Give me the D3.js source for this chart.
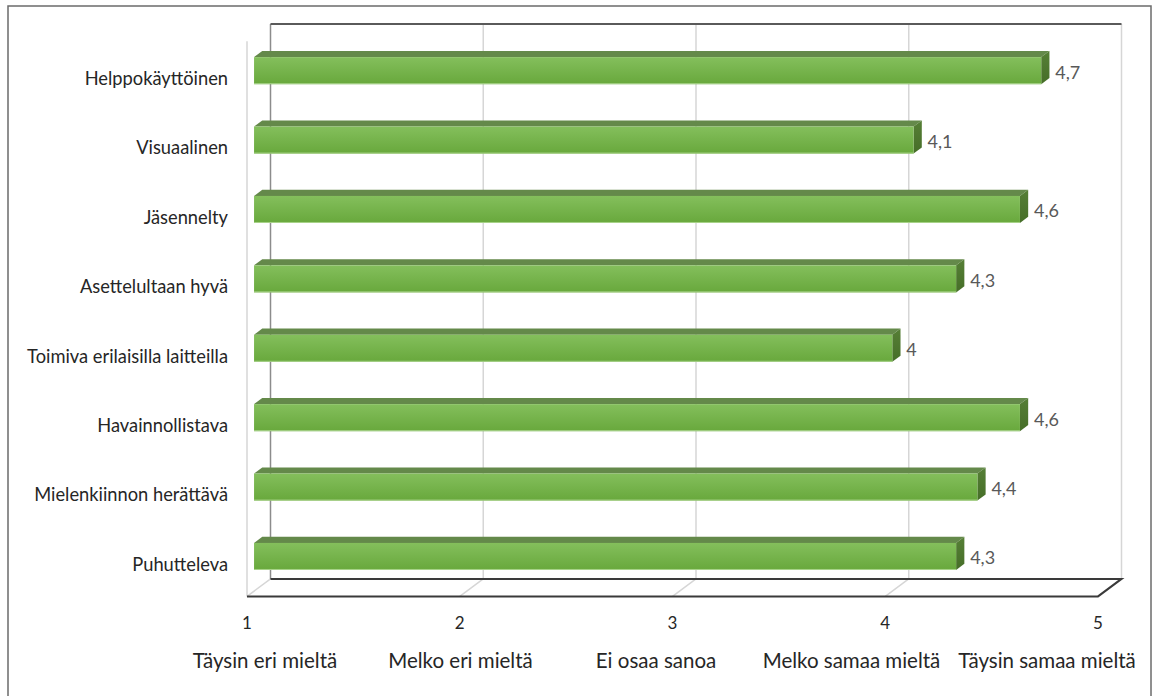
<!DOCTYPE html>
<html>
<head>
<meta charset="utf-8">
<script src="https://cdn.jsdelivr.net/npm/d3@7"></script>
<style>
  html, body { margin: 0; padding: 0; background: #fff; }
  svg { display: block; font-family: Lato, "Open Sans", sans-serif; }
</style>
</head>
<body>
<svg id="chart" width="1153" height="696"></svg>
<script>
// Survey results: mean agreement per statement (scale 1–5)
const categories = [
  "Helppokäyttöinen",
  "Visuaalinen",
  "Jäsennelty",
  "Asettelultaan hyvä",
  "Toimiva erilaisilla laitteilla",
  "Havainnollistava",
  "Mielenkiinnon herättävä",
  "Puhutteleva"
];
const values = [4.7, 4.1, 4.6, 4.3, 4.0, 4.6, 4.4, 4.3];
const tickValues = [1, 2, 3, 4, 5];
const scaleLabels = [
  "Täysin eri mieltä",
  "Melko eri mieltä",
  "Ei osaa sanoa",
  "Melko samaa mieltä",
  "Täysin samaa mieltä"
];

const svg = d3.select("#chart");

// Front plane of the 3D box; the back plane is shifted by the depth vector
const x = d3.scaleLinear().domain([1, 5]).range([247, 1098]);
const y = d3.scaleBand().domain(categories).range([41.2, 596.4])
  .paddingInner(0.61).paddingOuter(0.305);
const depth = { dx: 23.5, dy: -17.5 };
const barDepth = [0.3, 0.65];

const P = (v, yy, d) => [x(v) + d * depth.dx, yy + d * depth.dy];
const fmt = v => String(v).replace(".", ",");

// Outer frame
svg.append("rect")
  .attr("x", 8).attr("y", 6).attr("width", 1143).attr("height", 700)
  .attr("fill", "none").attr("stroke", "#6b6b6b").attr("stroke-width", 1.5);

const grid = svg.append("g");
const yTop = y.range()[0], yBot = y.range()[1];

// Back wall gridlines
grid.selectAll("line.gv").data(tickValues).join("line")
  .attr("x1", d => P(d, yTop, 1)[0]).attr("x2", d => P(d, yBot, 1)[0])
  .attr("y1", P(1, 24 - depth.dy, 1)[1]).attr("y2", P(1, yBot, 1)[1])
  .attr("stroke", (d, i) => i === 0 ? "#8c8c8c" : "#d6d6d6")
  .attr("stroke-width", 1.5);

// Floor depth lines at each tick
grid.selectAll("line.gf").data(tickValues.slice(0, -1)).join("line")
  .attr("x1", d => P(d, yBot, 0)[0]).attr("y1", d => P(d, yBot, 0)[1])
  .attr("x2", d => P(d, yBot, 1)[0]).attr("y2", d => P(d, yBot, 1)[1])
  .attr("stroke", "#d6d6d6").attr("stroke-width", 1.5);

// Front-left wall edge
grid.append("line")
  .attr("x1", x(1)).attr("x2", x(1)).attr("y1", yTop).attr("y2", yBot)
  .attr("stroke", "#d6d6d6").attr("stroke-width", 1.5);

// Top edge of the back wall
grid.append("line")
  .attr("x1", P(1, 0, 1)[0]).attr("x2", P(5, 0, 1)[0])
  .attr("y1", 24).attr("y2", 24)
  .attr("stroke", "#5a5a5a").attr("stroke-width", 2);

// Floor outline
const floor = [P(1, yBot, 1), P(5, yBot, 1), P(5, yBot, 0), P(1, yBot, 0)];
grid.append("path")
  .attr("d", d3.line()([floor[0], floor[1], floor[2], floor[3]]))
  .attr("fill", "none").attr("stroke", "#3a3a3a").attr("stroke-width", 2);

// Gradients for the bar faces
const defs = svg.append("defs");
const gFront = defs.append("linearGradient").attr("id", "front")
  .attr("x1", 0).attr("y1", 0).attr("x2", 0).attr("y2", 1);
gFront.append("stop").attr("offset", "0%").attr("stop-color", "#84bf5c");
gFront.append("stop").attr("offset", "100%").attr("stop-color", "#68a83c");
const gEnd = defs.append("linearGradient").attr("id", "end")
  .attr("x1", 0).attr("y1", 0).attr("x2", 0).attr("y2", 1);
gEnd.append("stop").attr("offset", "0%").attr("stop-color", "#567f36");
gEnd.append("stop").attr("offset", "100%").attr("stop-color", "#466e28");

const bars = svg.append("g").selectAll("g").data(categories).join("g");
const line = d3.line();

bars.each(function (c, i) {
  const g = d3.select(this);
  const v = values[i];
  const y0 = y(c), y1 = y(c) + y.bandwidth();
  const [d0, d1] = barDepth;
  // top face
  g.append("path")
    .attr("d", line([P(1, y0, d0), P(v, y0, d0), P(v, y0, d1), P(1, y0, d1)]) + "Z")
    .attr("fill", "#64894a");
  // end face
  g.append("path")
    .attr("d", line([P(v, y0, d0), P(v, y0, d1), P(v, y1, d1), P(v, y1, d0)]) + "Z")
    .attr("fill", "url(#end)");
  // front face
  const a = P(1, y0, d0), b = P(v, y1, d0);
  g.append("rect")
    .attr("x", a[0]).attr("y", a[1])
    .attr("width", b[0] - a[0]).attr("height", b[1] - a[1])
    .attr("fill", "url(#front)");
  g.append("line")
    .attr("x1", a[0]).attr("x2", b[0]).attr("y1", b[1] - 0.5).attr("y2", b[1] - 0.5)
    .attr("stroke", "#a9d38b").attr("stroke-width", 1);
  // value label
  const e = P(v, (y0 + y1) / 2, d0);
  g.append("text")
    .attr("x", e[0] + 14).attr("y", e[1] + 8)
    .attr("fill", "#595959").attr("font-size", 18)
    .text(fmt(v));
});

// Category labels
svg.append("g").selectAll("text").data(categories).join("text")
  .attr("x", 228).attr("y", d => y(d) + y.bandwidth() / 2 + 9)
  .attr("text-anchor", "end").attr("fill", "#262626").attr("font-size", 18.3)
  .text(d => d);

// Value axis tick labels
svg.append("g").selectAll("text").data(tickValues).join("text")
  .attr("x", d => x(d)).attr("y", 629)
  .attr("text-anchor", "middle").attr("fill", "#262626").attr("font-size", 17)
  .text(d => d);

// Verbal scale labels
const sx = d3.scalePoint().domain(scaleLabels).range([265, 1047]);
svg.append("g").selectAll("text").data(scaleLabels).join("text")
  .attr("x", d => sx(d)).attr("y", 668)
  .attr("text-anchor", "middle").attr("fill", "#262626").attr("font-size", 20.5)
  .text(d => d);
</script>
</body>
</html>
